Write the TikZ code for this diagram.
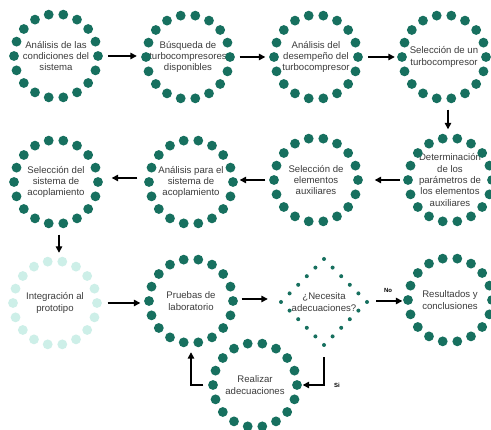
\documentclass[tikz,border=0pt]{standalone}
\usepackage{fontspec}
\setmainfont{Liberation Sans}
\usetikzlibrary{arrows.meta,shapes.geometric,calc}
\definecolor{tealD}{HTML}{17705F}
\definecolor{tealL}{HTML}{CDEFE8}
\definecolor{txt}{HTML}{3C3C3C}
\newcommand\ringdots[2]{\foreach \a in {0,20,...,340}{\fill[#2] (#1.center) ++(\a:42) circle (4.9pt);}}
\begin{document}
\begin{tikzpicture}[x=1pt,y=-1pt,
 stage/.style={circle,minimum size=93pt,inner sep=0pt,align=center,text=txt,font=\fontsize{9.6}{11.4}\selectfont},
 decis/.style={diamond,aspect=1,minimum size=86pt,inner sep=0pt,align=center,text=txt,font=\fontsize{9.6}{11.4}\selectfont},
 arr/.style={line width=1.4pt,-{Triangle[length=6.5pt,width=6.5pt]}},
 lbl/.style={font=\bfseries\fontsize{6}{7}\selectfont,text=black}]
\useasboundingbox (0,0) rectangle (491,430);
\fill[white] (0,0) rectangle (491,430);
% row 1
\node[stage] (c1) at (56,56) {Análisis de las\\condiciones del\\sistema};
\node[stage] (c2) at (188,57) {Búsqueda de\\turbocompresores\\disponibles};
\node[stage] (c3) at (316,57) {Análisis del\\desempeño del\\turbocompresor};
\node[stage] (c4) at (444,57) {Selección de un\\turbocompresor};
% row 2
\node[stage] (d1) at (56,182) {Selección del\\sistema de\\acoplamiento};
\node[stage] (d2) at (191,182) {Análisis para el\\sistema de\\acoplamiento};
\node[stage] (d3) at (316,180) {Selección de\\elementos\\auxiliares};
\node[stage] (d4) at (450,180) {Determinación\\de los\\parámetros de\\los elementos\\auxiliares};
% row 3
\node[stage] (e1) at (55,303) {Integración al\\prototipo};
\node[stage] (e2) at (191,301) {Pruebas de\\laboratorio};
\node[decis] (dia) at (324,302) {¿Necesita\\adecuaciones?};
\node[stage] (e4) at (450,300) {Resultados y\\conclusiones};
\node[stage] (r) at (255,385) {Realizar\\adecuaciones};
% dots
\foreach \n in {c1,c2,c3,c4,d1,d2,d3,d4,e2,e4,r}{\ringdots{\n}{tealD}}
\ringdots{e1}{tealL}
\foreach \t in {0,0.2,0.4,0.6,0.8}{
 \fill[tealD] (dia.center) ++({43*\t},{-43+43*\t}) circle (2pt);
 \fill[tealD] (dia.center) ++({43-43*\t},{43*\t}) circle (2pt);
 \fill[tealD] (dia.center) ++({-43*\t},{43-43*\t}) circle (2pt);
 \fill[tealD] (dia.center) ++({-43+43*\t},{-43*\t}) circle (2pt);
}
% connectors
\draw[arr,shorten <=5.5pt,shorten >=4.5pt] (c1.east) -- (c2.west |- c1.east);
\draw[arr,shorten <=5pt,shorten >=4pt] (c2.east) -- (c3.west);
\draw[arr,shorten <=5.5pt,shorten >=2.5pt] (c3.east) -- (c4.west);
\draw[arr,shorten <=6pt,shorten >=4pt] ([xshift=4pt]c4.south) -- ([xshift=4pt]c4.south |- d4.north);
\draw[arr,shorten <=3.5pt,shorten >=12pt] (d4.west) -- (d3.east);
\draw[arr,shorten <=4pt,shorten >=2pt] (d3.west) -- (d3.west -| d2.east);
\draw[arr,shorten <=7pt,shorten >=9pt] ([yshift=4pt]d2.west) -- ([yshift=4pt]d2.west -| d1.east);
\draw[arr,shorten <=6pt,shorten >=3.5pt] ([xshift=3pt]d1.south) -- ([xshift=3pt]d1.south |- e1.north);
\draw[arr,shorten <=6pt,shorten >=4pt] (e1.east) -- (e1.east -| e2.west);
\draw[arr,shorten <=4pt,shorten >=13pt] ([yshift=2pt]e2.east) -- ([yshift=2pt]e2.east -| dia.west);
\draw[arr,shorten <=9pt,shorten >=1pt] ([yshift=1pt]dia.east) -- ([yshift=1pt]dia.east -| e4.west)
  node[lbl,pos=0.58,above=4pt] (no) {No};
\draw[arr,shorten <=12pt,shorten >=1pt] (dia.south) |- (r.east)
  node[lbl,pos=0.5,right=6pt] (si) {Si};
\draw[arr,shorten <=5pt,shorten >=4.5pt] (r.west) -| (e2.south);
\end{tikzpicture}
\end{document}
